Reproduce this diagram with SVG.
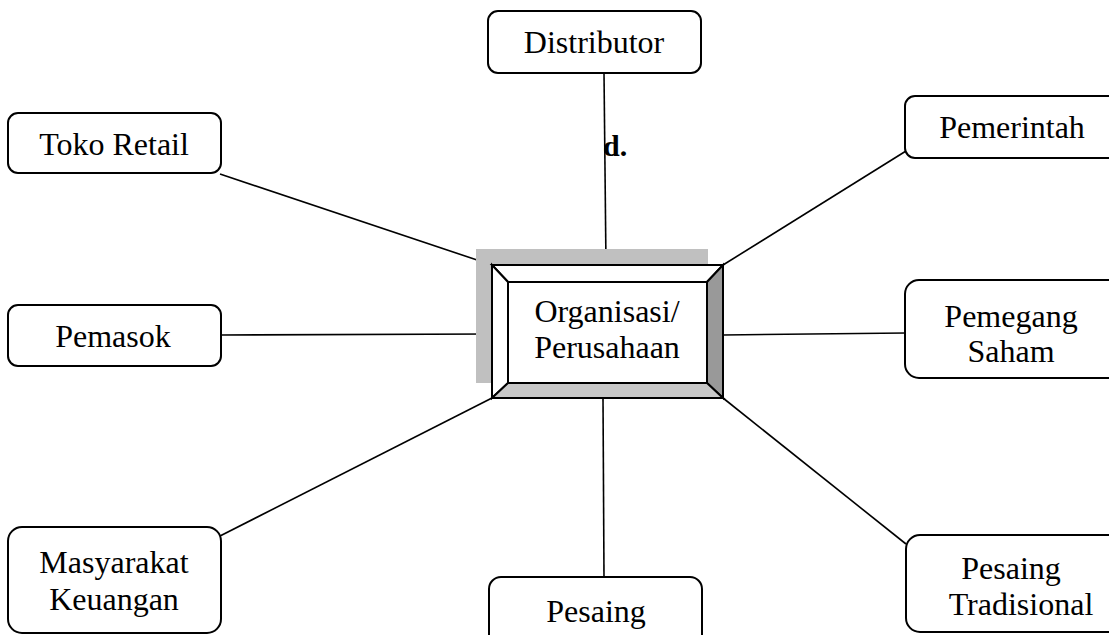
<svg xmlns="http://www.w3.org/2000/svg" width="1109" height="635" viewBox="0 0 1109 635">
  <style>
    .box { fill: #ffffff; stroke: #000000; stroke-width: 2; }
    .lbl { font-family: "Liberation Serif", "Times New Roman", serif; font-size: 32px; fill: #000000; text-anchor: middle; }
    .link { stroke: #000000; stroke-width: 1.6; fill: none; }
    .bevel { stroke: #000000; stroke-width: 2; stroke-linejoin: miter; }
  </style>
  <rect width="1109" height="635" fill="#ffffff"/>

  <!-- connectors between the central organisation and its stakeholders -->
  <g id="connectors">
    <line class="link" x1="604" y1="73" x2="606" y2="265"/>
    <line class="link" x1="220" y1="174" x2="492" y2="265"/>
    <line class="link" x1="723" y1="265" x2="906" y2="151"/>
    <line class="link" x1="221" y1="335" x2="490" y2="334"/>
    <line class="link" x1="723" y1="335" x2="906" y2="333"/>
    <line class="link" x1="492" y1="398" x2="220" y2="536"/>
    <line class="link" x1="603" y1="398" x2="604" y2="577"/>
    <line class="link" x1="723" y1="398" x2="906" y2="544"/>
  </g>

  <!-- central bevelled box -->
  <g id="node-organisasi">
    <rect x="476" y="249" width="232" height="134" fill="#c0c0c0"/>
    <polygon class="bevel" points="492,265 723,265 707,282 508,282" fill="#ffffff"/>
    <polygon class="bevel" points="492,265 508,282 508,383 492,398" fill="#ffffff"/>
    <polygon class="bevel" points="723,265 723,398 707,383 707,282" fill="#999999"/>
    <polygon class="bevel" points="492,398 508,383 707,383 723,398" fill="#c8c8c8"/>
    <rect x="508" y="282" width="199" height="101" fill="#ffffff" stroke="#000" stroke-width="2"/>
    <text class="lbl" x="607" y="322">Organisasi/</text>
    <text class="lbl" x="607" y="358">Perusahaan</text>
  </g>

  <g id="node-distributor">
    <rect class="box" x="488" y="11" width="213" height="62" rx="10"/>
    <text class="lbl" x="594" y="53">Distributor</text>
  </g>

  <text x="603" y="156" font-family="'Liberation Serif', 'Times New Roman', serif" font-size="30" font-weight="bold">d.</text>

  <g id="node-toko-retail">
    <rect class="box" x="8" y="113" width="213" height="60" rx="10"/>
    <text class="lbl" x="114" y="155">Toko Retail</text>
  </g>

  <g id="node-pemerintah">
    <rect class="box" x="905" y="96" width="220" height="62" rx="10"/>
    <text class="lbl" x="1012" y="138">Pemerintah</text>
  </g>

  <g id="node-pemasok">
    <rect class="box" x="8" y="305" width="213" height="61" rx="10"/>
    <text class="lbl" x="113" y="347">Pemasok</text>
  </g>

  <g id="node-pemegang-saham">
    <rect class="box" x="905" y="280" width="220" height="98" rx="14"/>
    <text class="lbl" x="1011" y="327">Pemegang</text>
    <text class="lbl" x="1011" y="362">Saham</text>
  </g>

  <g id="node-masyarakat-keuangan">
    <rect class="box" x="8" y="527" width="213" height="106" rx="14"/>
    <text class="lbl" x="114" y="573">Masyarakat</text>
    <text class="lbl" x="114" y="610">Keuangan</text>
  </g>

  <g id="node-pesaing">
    <rect class="box" x="489" y="577" width="213" height="80" rx="12"/>
    <text class="lbl" x="596" y="622">Pesaing</text>
  </g>

  <g id="node-pesaing-tradisional">
    <rect class="box" x="906" y="535" width="220" height="97" rx="14"/>
    <text class="lbl" x="1011" y="579">Pesaing</text>
    <text class="lbl" x="1021" y="615">Tradisional</text>
  </g>
</svg>
